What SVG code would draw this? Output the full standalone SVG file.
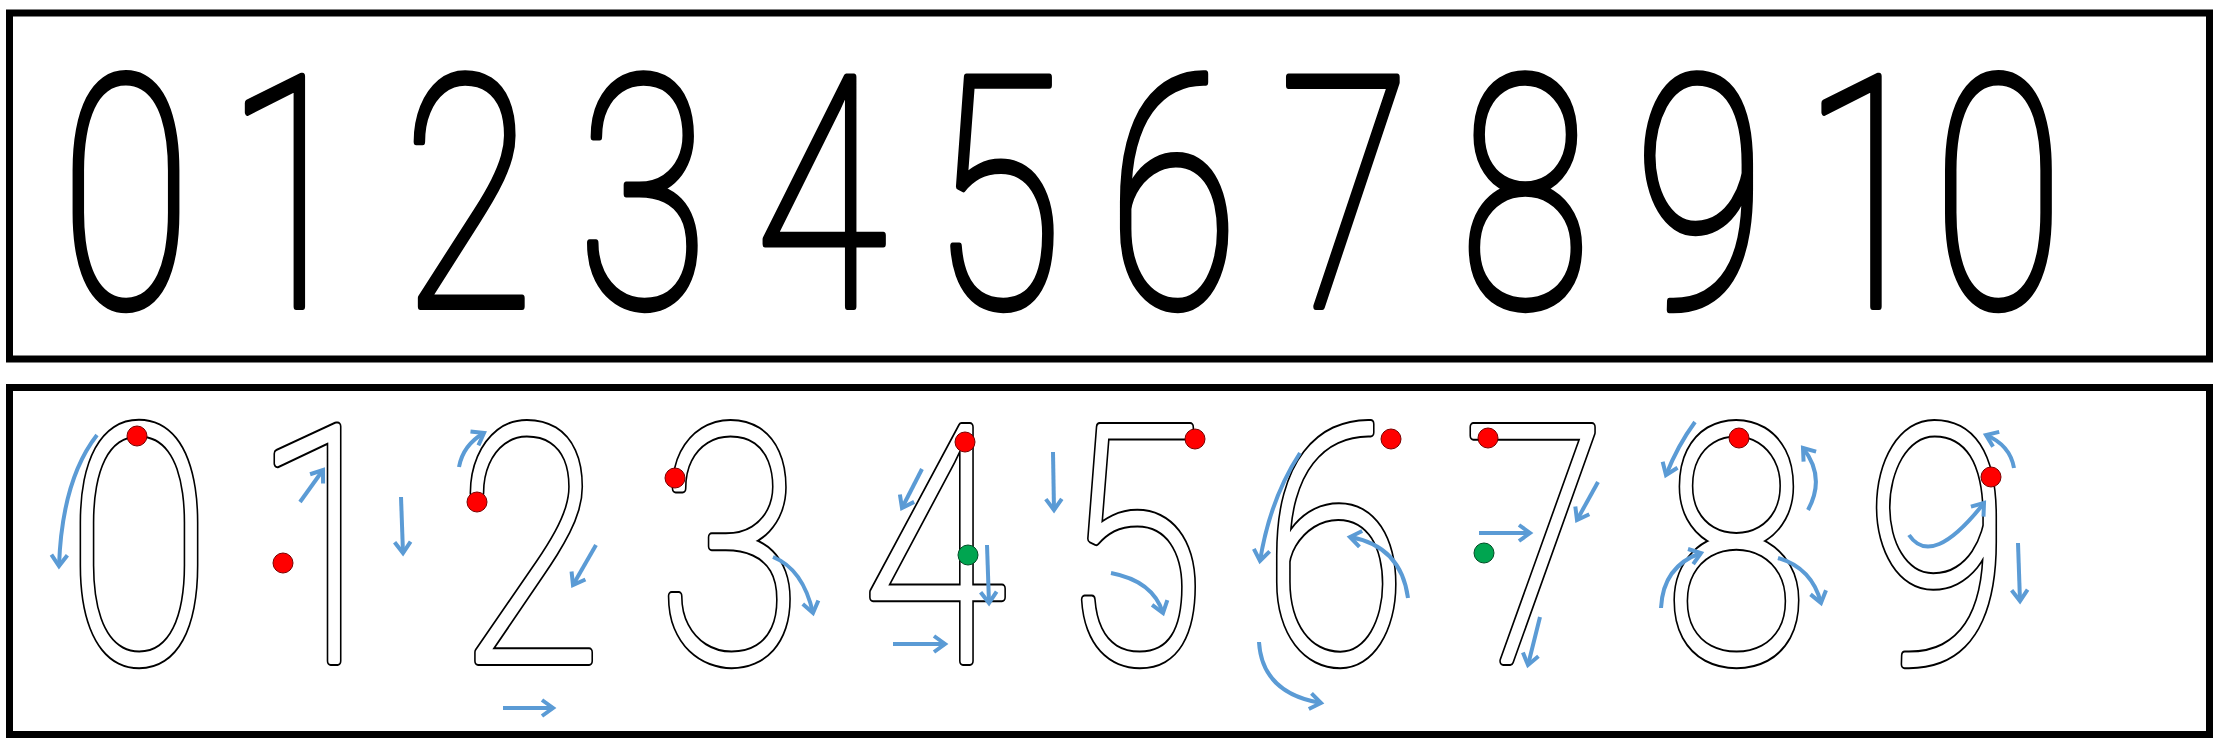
<svg xmlns="http://www.w3.org/2000/svg" width="2221" height="743" viewBox="0 0 2221 743">
<style>
.frame{fill:none;stroke:#000;stroke-width:7}
.top{font-family:Roboto,"Liberation Sans",sans-serif;font-weight:100;font-size:323px;fill:#000;stroke:#000;stroke-width:7;stroke-linejoin:round;text-anchor:middle}
.ol{font-family:Roboto,"Liberation Sans",sans-serif;font-weight:100;font-size:329px;text-anchor:middle;stroke-linejoin:round}
.ob{fill:#000;stroke:#000;stroke-width:10}
.ow{fill:#fff;stroke:#fff;stroke-width:6}
.arr{fill:none;stroke:#5b9bd5;stroke-width:4;marker-end:url(#ah)}
.red{fill:#ff0000;stroke:#7a0000;stroke-width:1}
.grn{fill:#00a550;stroke:#004d25;stroke-width:1}
</style>
<defs>
<marker id="ah" viewBox="0 0 20 20" refX="15" refY="10" markerWidth="20" markerHeight="20" orient="auto" markerUnits="userSpaceOnUse">
<path d="M4,2 L15,10 L4,18" fill="none" stroke="#5b9bd5" stroke-width="4"/>
</marker>
</defs>
<rect width="2221" height="743" fill="#fff"/>
<rect class="frame" x="9.5" y="13" width="2200" height="346"/>
<rect class="frame" x="9.5" y="387.5" width="2200" height="347"/>

<g id="top-row">
<text id="t0" class="top" transform="translate(126,306.5) scale(0.74,1)">0</text>
<text id="t1" class="top" transform="translate(291,306.5) scale(0.74,1)">1</text>
<text id="t2" class="top" transform="translate(468,306.5) scale(0.74,1)">2</text>
<text id="t3" class="top" transform="translate(643,306.5) scale(0.74,1)">3</text>
<text id="t4" class="top" transform="translate(821,306.5) scale(0.74,1)">4</text>
<text id="t5" class="top" transform="translate(997,306.5) scale(0.74,1)">5</text>
<text id="t6" class="top" transform="translate(1173,306.5) scale(0.74,1)">6</text>
<text id="t7" class="top" transform="translate(1345,306.5) scale(0.74,1)">7</text>
<text id="t8" class="top" transform="translate(1525,306.5) scale(0.74,1)">8</text>
<text id="t9" class="top" transform="translate(1700,306.5) scale(0.74,1)">9</text>
<text id="t10" class="top" transform="translate(1933,306.5) scale(0.74,1)">10</text>
</g>

<g id="b0"><g transform="translate(139,661) scale(0.793,1)"><text class="ol ob">0</text><text class="ol ow">0</text></g></g>
<g id="b1"><g transform="translate(325,661) scale(0.793,1)"><text class="ol ob">1</text><text class="ol ow">1</text></g></g>
<g id="b2"><g transform="translate(530,661) scale(0.793,1)"><text class="ol ob">2</text><text class="ol ow">2</text></g></g>
<g id="b3"><g transform="translate(730,661) scale(0.793,1)"><text class="ol ob">3</text><text class="ol ow">3</text></g></g>
<g id="b4"><g transform="translate(934,661) scale(0.793,1)"><text class="ol ob">4</text><text class="ol ow">4</text></g></g>
<g id="b5"><g transform="translate(1133,661) scale(0.793,1)"><text class="ol ob">5</text><text class="ol ow">5</text></g></g>
<g id="b6"><g transform="translate(1335,661) scale(0.793,1)"><text class="ol ob">6</text><text class="ol ow">6</text></g></g>
<g id="b7"><g transform="translate(1535,661) scale(0.793,1)"><text class="ol ob">7</text><text class="ol ow">7</text></g></g>
<g id="b8"><g transform="translate(1736,661) scale(0.793,1)"><text class="ol ob">8</text><text class="ol ow">8</text></g></g>
<g id="b9"><g transform="translate(1938,661) scale(0.793,1)"><text class="ol ob">9</text><text class="ol ow">9</text></g></g>

<g id="connectors">
<path class="arr" d="M97,435 Q62,480 59,566"/>
<path class="arr" d="M300,502 L323,470"/>
<path class="arr" d="M401,497 L403,553"/>
<path class="arr" d="M459,467 Q463,445 484,433"/>
<path class="arr" d="M596,545 L573,585"/>
<path class="arr" d="M503,708 L553,708"/>
<path class="arr" d="M773,557 Q803,569 813,613"/>
<path class="arr" d="M922,469 L902,508"/>
<path class="arr" d="M987,545 L989,603"/>
<path class="arr" d="M893,644 L945,644"/>
<path class="arr" d="M1053,452 L1054,510"/>
<path class="arr" d="M1111,573 Q1153,581 1163,613"/>
<path class="arr" d="M1300,453 Q1270,499 1260,561"/>
<path class="arr" d="M1408,598 Q1401,546 1350,537"/>
<path class="arr" d="M1259,642 Q1262,693 1321,703"/>
<path class="arr" d="M1598,482 L1577,520"/>
<path class="arr" d="M1479,533 L1530,533"/>
<path class="arr" d="M1540,617 L1528,665"/>
<path class="arr" d="M1695,422 Q1678,445 1666,475"/>
<path class="arr" d="M1808,510 Q1826,477 1803,448"/>
<path class="arr" d="M1661,608 Q1663,566 1701,553"/>
<path class="arr" d="M1778,558 Q1812,568 1821,603"/>
<path class="arr" d="M2014,468 Q2010,445 1986,435"/>
<path class="arr" d="M1909,535 Q1932,569 1984,503"/>
<path class="arr" d="M2018,543 L2020,601"/>
</g>

<g id="dots">
<circle class="red" cx="137" cy="436" r="10"/>
<circle class="red" cx="283" cy="563" r="10"/>
<circle class="red" cx="477" cy="502" r="10"/>
<circle class="red" cx="675" cy="478" r="10"/>
<circle class="red" cx="965" cy="442" r="10"/>
<circle class="grn" cx="968" cy="555" r="10"/>
<circle class="red" cx="1195" cy="439" r="10"/>
<circle class="red" cx="1391" cy="439" r="10"/>
<circle class="red" cx="1488" cy="438" r="10"/>
<circle class="grn" cx="1484" cy="553" r="10"/>
<circle class="red" cx="1739" cy="438" r="10"/>
<circle class="red" cx="1991" cy="477" r="10"/>
</g>
</svg>
